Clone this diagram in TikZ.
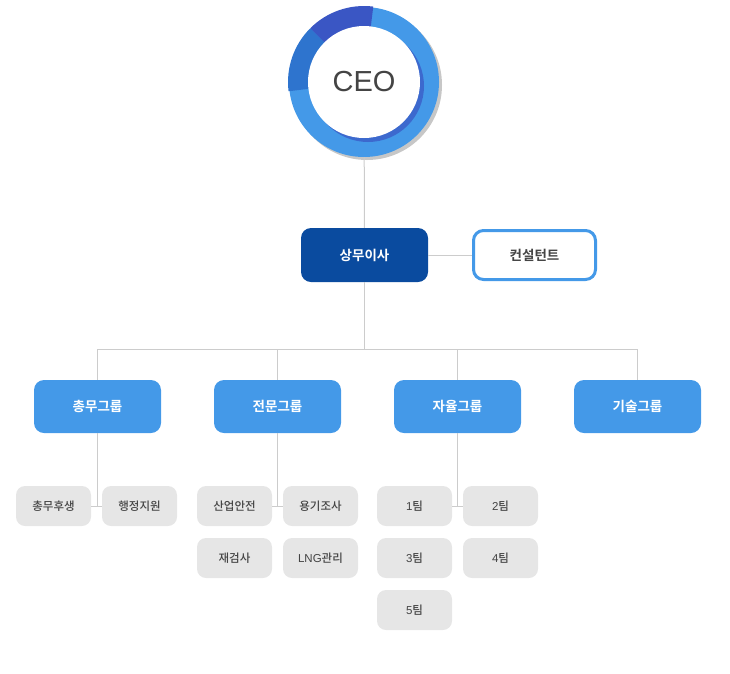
\documentclass[tikz,border=0pt]{standalone}
\usepackage{fontspec}
\setmainfont{Noto Sans CJK KR}[BoldFont={Noto Sans CJK KR Bold}]
\newfontfamily\medfont{Noto Sans CJK KR Medium}
\newfontfamily\latin{Liberation Sans}
\usetikzlibrary{positioning}

\definecolor{ringblue}{HTML}{4499E8}
\definecolor{ringdark}{HTML}{3A56C4}
\definecolor{ringmid}{HTML}{2E74CE}
\definecolor{navy}{HTML}{0A4B9F}
\definecolor{groupblue}{HTML}{4499E8}
\definecolor{subgray}{HTML}{E6E6E6}
\definecolor{linegray}{HTML}{CCCCCC}
\definecolor{textgray}{HTML}{444444}

\tikzset{
  boss/.style={rounded corners=10pt, fill=navy, text=white, minimum width=127pt, minimum height=54pt, font=\bfseries\fontsize{13.5}{13.5}\selectfont},
  advisor/.style={rounded corners=10pt, draw=ringblue, line width=3pt, fill=white, text=textgray, minimum width=122pt, minimum height=49pt, font=\bfseries\fontsize{13.5}{13.5}\selectfont},
  group/.style={rounded corners=10pt, fill=groupblue, text=white, minimum width=127pt, minimum height=53pt, font=\bfseries\fontsize{13.5}{13.5}\selectfont},
  team/.style={rounded corners=9pt, fill=subgray, text=textgray, minimum width=75pt, minimum height=40pt, font=\medfont\fontsize{11.5}{11.5}\selectfont},
  link/.style={draw=linegray, line width=1pt}
}

\begin{document}
\begin{tikzpicture}[x=1pt, y=-1pt]
\useasboundingbox (0,0) rectangle (730,673);

% CEO ring
\fill[black!22] (367,85) circle (75pt);
\node[circle, fill=ringblue, minimum size=150pt, inner sep=0pt] (ring) at (364,82) {};
\fill[ringmid] (ring.center) -- ++(135:76pt) arc[start angle=135, end angle=187, radius=76pt] -- cycle;
\fill[ringdark] (ring.center) -- ++(83:76pt) arc[start angle=83, end angle=135, radius=76pt] -- cycle;
\fill[ringdark, opacity=0.7] (368,86) circle (56pt);
\node[circle, fill=white, minimum size=112pt, inner sep=0pt, text=textgray, font=\latin\fontsize{29}{29}\selectfont] (ceo) at (364,82) {CEO};

\node[boss] (boss) at (364.5,255) {상무이사};
\node[advisor] (advisor) at (534.5,255) {컨설턴트};

\foreach \name/\x/\label in {g1/97.5/총무그룹, g2/277.5/전문그룹, g3/457.5/자율그룹, g4/637.5/기술그룹} {
    \node[group] (\name) at (\x,406.5) {\label};
}

\foreach \name/\x/\y/\label in {t11/53.5/506/총무후생, t12/139.5/506/행정지원,
    t21/234.5/506/산업안전, t22/320.5/506/용기조사, t23/234.5/558/재검사, t24/320.5/558/{{\latin LNG}관리},
    t31/414.5/506/{{\latin 1}팀}, t32/500.5/506/{{\latin 2}팀}, t33/414.5/558/{{\latin 3}팀},
    t34/500.5/558/{{\latin 4}팀}, t35/414.5/610/{{\latin 5}팀}} {
    \node[team] (\name) at (\x,\y) {\label};
}

\coordinate (split) at (364.5,349);

\draw[link] (ring) -- (boss);
\draw[link] (boss) -- (advisor);
\draw[link] (boss) -- (split);
\foreach \g in {g1,g2,g3,g4} {
    \draw[link] (split) -| (\g);
}

\draw[link] (g1) -- (g1 |- t11);
\draw[link] (t11) -- (t12);
\draw[link] (g2) -- (g2 |- t21);
\draw[link] (t21) -- (t22);
\draw[link] (g3) -- (g3 |- t31);
\draw[link] (t31) -- (t32);
\end{tikzpicture}
\end{document}
